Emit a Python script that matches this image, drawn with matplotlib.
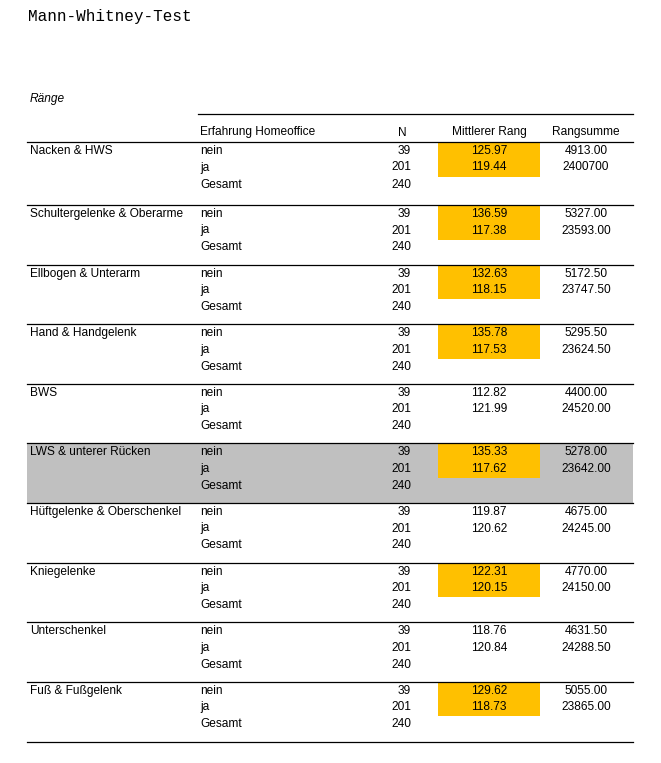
import matplotlib.pyplot as plt
from matplotlib.patches import Rectangle

plt.rcParams['font.family'] = ['Liberation Sans', 'DejaVu Sans']

regions = ["Nacken & HWS", "Schultergelenke & Oberarme", "Ellbogen & Unterarm",
           "Hand & Handgelenk", "BWS", "LWS & unterer Rücken",
           "Hüftgelenke & Oberschenkel", "Kniegelenke", "Unterschenkel",
           "Fuß & Fußgelenk"]
groups = ["nein", "ja", "Gesamt"]
n_vals = [39, 201, 240]
rank_nein = ["125.97", "136.59", "132.63", "135.78", "112.82",
             "135.33", "119.87", "122.31", "118.76", "129.62"]
rank_ja = ["119.44", "117.38", "118.15", "117.53", "121.99",
           "117.62", "120.62", "120.15", "120.84", "118.73"]
sum_nein = ["4913.00", "5327.00", "5172.50", "5295.50", "4400.00",
            "5278.00", "4675.00", "4770.00", "4631.50", "5055.00"]
sum_ja = ["2400700", "23593.00", "23747.50", "23624.50", "24520.00",
          "23642.00", "24245.00", "24150.00", "24288.50", "23865.00"]
highlight = [True, True, True, True, False, True, False, True, False, True]
selected = "LWS & unterer Rücken"

W, H = 661, 763
fig = plt.figure(figsize=(W / 100, H / 100), dpi=100)
ax = fig.add_axes([0, 0, 1, 1])
ax.set_xlim(0, W)
ax.set_ylim(H, 0)
ax.axis("off")

fs = 8.6
x_left, x_right = 27, 633
x_grp, x_n, x_rank, x_sum = 200, 411, 489, 586

ax.text(28, 16, "Mann-Whitney-Test", family="Liberation Mono", fontsize=11.5, va="center")
ax.text(30, 99, "Ränge", style="italic", fontsize=fs, va="center")

ax.plot([198, x_right], [114, 114], color="black", lw=0.9)
hy = 132.5
ax.text(x_grp, hy, "Erfahrung Homeoffice", fontsize=fs, va="center")
ax.text(402, hy, "N", fontsize=fs, va="center", ha="center")
ax.text(x_rank, hy, "Mittlerer Rang", fontsize=fs, va="center", ha="center")
ax.text(x_sum, hy, "Rangsumme", fontsize=fs, va="center", ha="center")

offsets = [9, 25.5, 42.5]
for i, reg in enumerate(regions):
    top = 142 if i == 0 else 205 + (i - 1) * 59.6
    nxt = 205 + i * 59.6
    if reg == selected:
        ax.add_patch(Rectangle((x_left, top), x_right - x_left, nxt - top,
                               color="#c0c0c0", lw=0, zorder=0))
    if highlight[i]:
        ax.add_patch(Rectangle((438, top + 1), 102, 33.5,
                               color="#ffc000", lw=0, zorder=1))
    ax.plot([x_left, x_right], [top, top], color="black", lw=0.9, zorder=2)
    ax.text(30, top + offsets[0], reg, fontsize=fs, va="center", zorder=3)
    for j, g in enumerate(groups):
        y = top + offsets[j]
        ax.text(x_grp, y, g, fontsize=fs, va="center", zorder=3)
        ax.text(x_n, y, str(n_vals[j]), fontsize=fs, va="center", ha="right", zorder=3)
    ax.text(x_rank, top + offsets[0], rank_nein[i], fontsize=fs, va="center", ha="center", zorder=3)
    ax.text(x_rank, top + offsets[1], rank_ja[i], fontsize=fs, va="center", ha="center", zorder=3)
    ax.text(x_sum, top + offsets[0], sum_nein[i], fontsize=fs, va="center", ha="center", zorder=3)
    ax.text(x_sum, top + offsets[1], sum_ja[i], fontsize=fs, va="center", ha="center", zorder=3)

ax.plot([x_left, x_right], [742, 742], color="black", lw=0.9)

fig.savefig("out.png", dpi=100)
